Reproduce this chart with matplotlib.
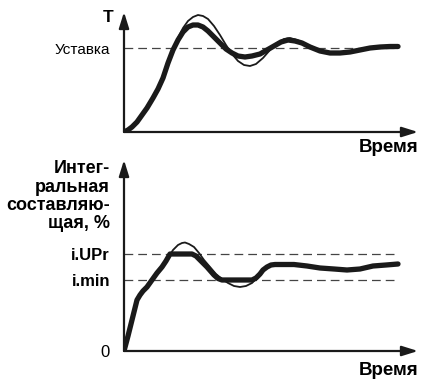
import matplotlib
matplotlib.use("Agg")
import matplotlib.pyplot as plt

plt.rcParams['font.family'] = ['Liberation Sans Narrow', 'Liberation Sans', 'DejaVu Sans']

# temperature response, arbitrary units (setpoint = 84)
t_thick = [0, 4, 8, 13, 18, 23, 29, 34, 39, 44, 49, 54, 59, 64, 69, 74, 79, 84, 90, 96,
           102, 108, 114, 121, 128, 136, 143, 150, 157, 164, 171, 178, 186, 196, 206,
           216, 226, 236, 246, 256, 266, 274]
T_thick = [0, 2, 5, 10, 17, 24, 34, 43, 54, 69, 82, 92, 100, 105, 107, 107, 105, 101, 95,
           89, 83, 79, 76, 75, 76, 78, 82, 86, 90, 92, 91, 89, 85, 81, 79, 79, 80, 82, 84,
           85, 85.5, 85.5]
t_thin = [0, 4, 8, 13, 18, 23, 29, 34, 39, 44, 49, 54, 59, 64, 69, 74, 79, 84, 90, 96,
          102, 108, 114, 120, 126, 132, 139, 146, 153, 160, 166, 173, 180, 188, 196, 206,
          216, 226, 236, 246, 256, 266, 274]
T_thin = [0, 2, 5, 10, 17, 24, 34, 43, 54, 69, 82, 94, 104, 111, 115, 117, 116, 113, 106,
          97, 87, 78, 71, 67, 66, 68, 74, 82, 89, 93, 94, 92, 89, 85, 82, 79, 79, 80, 82,
          84, 85, 85.5, 85.5]
setpoint = 84

# integral component, arbitrary units
t_int_thick = [0, 4, 8, 11, 13, 16, 19, 23, 28, 33, 38, 42, 46, 68, 72, 76, 83, 90, 94,
               98, 128, 132, 136, 139, 143, 147, 151, 160, 170, 183, 196, 210, 223, 236,
               249, 262, 274]
I_thick = [0, 15, 31, 43, 51, 56, 60, 64, 71, 78, 84, 90, 97, 97, 95, 91, 84, 76, 72.5,
           71, 71, 73, 77, 81, 84, 86, 86.5, 86.5, 86.5, 85, 83, 82, 81, 82, 85, 86, 87]
t_int_thin = [0, 4, 8, 11, 13, 16, 19, 23, 28, 33, 38, 44, 49, 54, 58, 61, 65, 70, 75, 80,
              86, 92, 98, 104, 110, 116, 122, 128, 133, 137, 141, 145, 151, 160, 170, 183,
              196, 210, 223, 236, 249, 262, 274]
I_thin = [0, 15, 31, 43, 51, 56, 60, 64, 71, 78, 84, 93, 101, 106, 108, 108.5, 107, 104,
          98, 91, 84, 77, 72, 68, 65, 64, 65, 68, 73, 78, 82, 85, 86.5, 86.5, 86.5, 85, 83,
          82, 81, 82, 85, 86, 87]
i_upr = 97
i_min = 71

W, H = 422, 379
fig = plt.figure(figsize=(W / 100, H / 100), dpi=100)
ax1 = fig.add_axes([124 / W, (H - 132) / H, 294 / W, 120 / H])
ax2 = fig.add_axes([124 / W, (H - 351) / H, 294 / W, 191 / H])

ink = '#1a1a1a'


def setup(ax, ymax, label_y):
    ax.set_xlim(0, 294)
    ax.set_ylim(0, ymax)
    for s in ax.spines.values():
        s.set_visible(False)
    ax.set_xticks([])
    ax.tick_params(axis='y', length=0, pad=10)
    for xy in [(1, 0), (0, 1)]:
        ax.annotate('', xy=xy, xytext=(0, 0), xycoords='axes fraction',
                    arrowprops=dict(arrowstyle='-|>,head_length=0.8,head_width=0.25',
                                    lw=1.6, color=ink, mutation_scale=12,
                                    shrinkA=0, shrinkB=0))
    ax.text(1, label_y, 'Время', transform=ax.transAxes,
            ha='right', va='center', fontsize=13.5, fontweight='bold')


def curves(ax, tk, yk, tn, yn):
    ax.plot(tk, yk, color=ink, lw=3.8, solid_joinstyle='round', solid_capstyle='round')
    ax.plot(tn, yn, color=ink, lw=1.3, solid_joinstyle='round')


setup(ax1, 120, -0.125)
ax1.axhline(setpoint, xmin=0, xmax=0.93, color='#444444', lw=0.9, dashes=(7, 4))
curves(ax1, t_thick, T_thick, t_thin, T_thin)
ax1.set_yticks([setpoint])
ax1.set_yticklabels(['Уставка'], fontsize=11)
ax1.text(-16 / 294, 0.95, 'T', transform=ax1.transAxes, ha='center', va='center',
         fontsize=12.5, fontweight='bold')

setup(ax2, 191, -0.1)
for lvl in [i_upr, i_min]:
    ax2.axhline(lvl, xmin=0, xmax=0.93, color='#444444', lw=0.9, dashes=(7, 4))
curves(ax2, t_int_thick, I_thick, t_int_thin, I_thin)
ax2.set_yticks([0, i_min, i_upr])
ax2.set_yticklabels(['0', 'i.min', 'i.UPr'], fontsize=12)
for lab in ax2.get_yticklabels()[1:]:
    lab.set_fontweight('bold')
ax2.text(-14 / 294, 0.81, 'Интег-\nральная\nсоставляю-\nщая, %', transform=ax2.transAxes,
         ha='right', va='center', fontsize=13, fontweight='bold', linespacing=1.1)

fig.savefig('out.png', dpi=100)
